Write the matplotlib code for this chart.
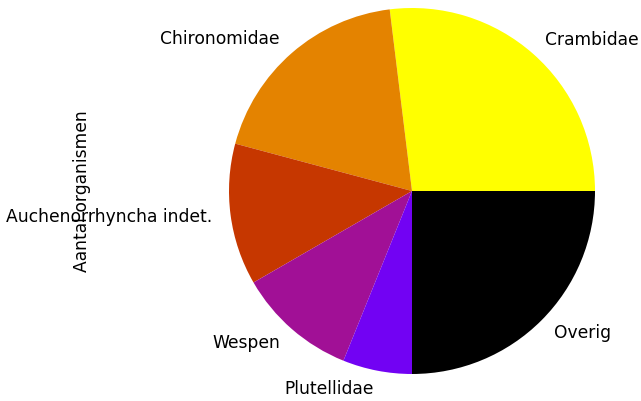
import matplotlib
matplotlib.use("Agg")
import matplotlib.pyplot as plt
import numpy as np

labels = ["Crambidae", "Chironomidae", "Auchenorrhyncha indet.", "Wespen", "Plutellidae", "Overig"]
values = [97, 68, 45, 38, 22, 90]
ylabel = "Aantal organismen"

cmap = plt.get_cmap("gnuplot_r")
colors = [cmap(v) for v in np.linspace(0, 1, len(values))]

FS = 12.3
W, H = 641, 401
fig = plt.figure(figsize=(W / 100, H / 100), dpi=100)
R = 183.0
cx, cy = 412.0, 401 - 191.0
half = 1.25 * R
ax = fig.add_axes([(cx - half) / W, (cy - half) / H, 2 * half / W, 2 * half / H])
ax.pie(values, labels=labels, colors=colors, startangle=0, counterclock=True,
       textprops={"fontsize": FS})
ax.set_xlim(-1.25, 1.25)
ax.set_ylim(-1.25, 1.25)
ax.set_aspect("equal", adjustable="datalim")
ax.set_ylabel(ylabel, fontsize=FS)
ax.yaxis.set_label_coords((91 - (cx - half)) / (2 * half), 0.5)
fig.savefig("out.png", dpi=100)
